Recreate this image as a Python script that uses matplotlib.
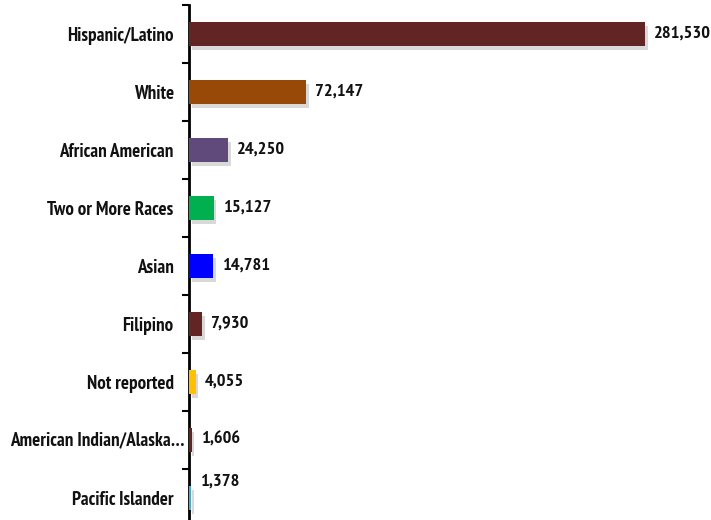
import matplotlib
matplotlib.use("Agg")
import matplotlib.pyplot as plt
import matplotlib.patheffects as pe

categories = ["Hispanic/Latino", "White", "African American", "Two or More Races",
              "Asian", "Filipino", "Not reported", "American Indian/Alaska…",
              "Pacific Islander"]
values = [281530, 72147, 24250, 15127, 14781, 7930, 4055, 1606, 1378]
colors = ["#632523", "#984807", "#604A7B", "#00B050", "#0000FF", "#632523",
          "#FFC000", "#632523", "#4BACC6"]

plt.rcParams['font.family'] = ["PT Sans Narrow", "DejaVu Sans"]

W, H = 711, 520
fig = plt.figure(figsize=(W/100, H/100), dpi=100)
left = 189/W
top_px, bottom_px = 5, 527
ax = fig.add_axes([left, 1-bottom_px/H, 1-left, (bottom_px-top_px)/H])

n = len(categories)
ypos = list(range(n))
shadow = [pe.SimplePatchShadow(offset=(2, -3), shadow_rgbFace="#000000", alpha=0.15), pe.Normal()]
bars = ax.barh(ypos, values, height=0.41, color=colors, zorder=3)
for b in bars:
    b.set_path_effects(shadow)

xmax = 281530*(W-189)/(645-189)
ax.set_xlim(0, xmax)
ax.set_ylim(n-0.5, -0.5)

long_idx = 7
ax.set_yticks(ypos)
ax.set_yticklabels([c if i != long_idx else "" for i, c in enumerate(categories)],
                   fontsize=13.7, fontweight='bold', color='#111111')
ax.annotate(categories[long_idx], xy=(0, long_idx), xytext=(-3, 0), textcoords='offset points',
            ha='right', va='center', fontsize=13.7, fontweight='bold', color='#111111',
            annotation_clip=False)
ax.set_yticks([i-0.5 for i in range(n+1)], minor=True)
ax.tick_params(axis='y', which='major', length=0, pad=11)
ax.tick_params(axis='y', which='minor', length=5, width=1.5, direction='out')
ax.set_xticks([])
for s in ['top', 'right', 'bottom']:
    ax.spines[s].set_visible(False)
ax.spines['left'].set_linewidth(2)

for i, v in enumerate(values):
    dy = 12 if i == n-1 else 0
    ax.annotate(f"{v:,}", xy=(v, i), xytext=(6.5, dy), textcoords='offset points',
                va='center', ha='left', fontsize=13.2, fontweight='bold', color='#111111')

fig.savefig("out.png", dpi=100)
